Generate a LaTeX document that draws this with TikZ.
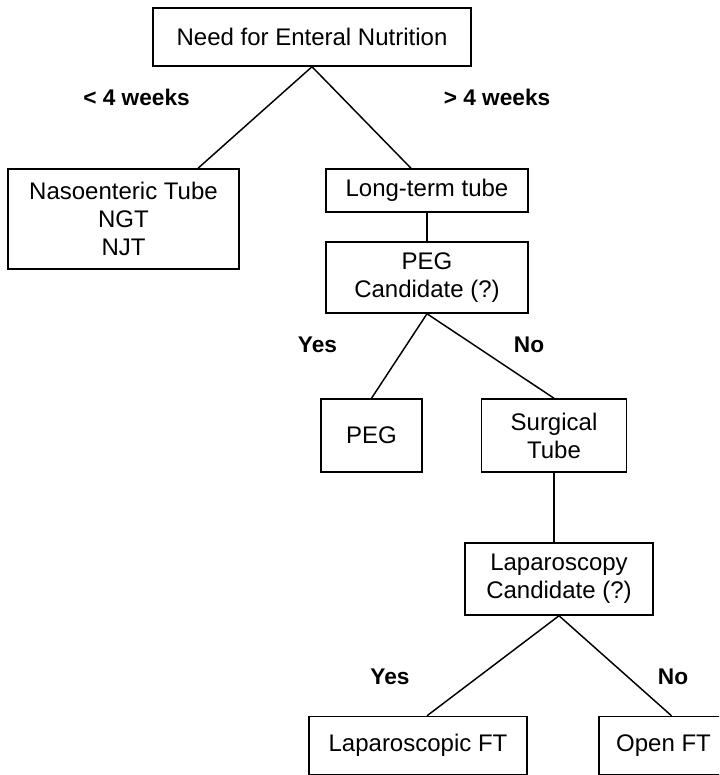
\documentclass[tikz,border=0pt]{standalone}
\usepackage{fontspec}
\setmainfont{Liberation Sans}
\usetikzlibrary{calc}
\begin{document}
\begin{tikzpicture}[
  x=0.75pt, y=-0.75pt, line width=1.1pt,
  box/.style={draw, inner sep=0pt, align=center, font=\fontsize{18}{21}\selectfont},
  lbl/.style={inner sep=0pt, font=\fontsize{17}{20}\selectfont\bfseries}
]
\useasboundingbox (0,0) rectangle (719,775);
\clip (0,0) rectangle (719,775);
\node[box, minimum width=238.5pt, minimum height=43.5pt]  (need)  at (312,37)      {Need for Enteral Nutrition};
\node[box, minimum width=173.25pt, minimum height=75pt]   (naso)  at (123.5,219)   {Nasoenteric Tube\\NGT\\NJT};
\node[box, minimum width=151.5pt, minimum height=32.25pt] (long)  at (427,190.5)   {Long-term tube};
\node[box, minimum width=151.5pt, minimum height=53.25pt] (pegc)  at (427,277.5)   {PEG\\Candidate (?)};
\node[box, minimum width=75.75pt, minimum height=54.75pt] (peg)   at (371.5,435.5) {PEG};
\node[box, minimum width=108.75pt, minimum height=54.75pt] (surg) at (554,435.5)   {Surgical\\Tube};
\node[box, minimum width=141pt, minimum height=54pt]      (lapc)  at (559,579)     {Laparoscopy\\Candidate (?)};
\node[box, minimum width=163.5pt, minimum height=43.5pt]  (lapft) at (418,745.5)   {Laparoscopic FT};
\node[box, minimum width=96.75pt, minimum height=43.5pt]  (open)  at (663.5,745.5) {Open FT};
% branch labels
\node[lbl] (short) at (136.5,97) {< 4 weeks};
\node[lbl] (lterm) at (497,97)   {> 4 weeks};
\node[lbl] (yes1)  at (317.5,345) {Yes};
\node[lbl] (no1)   at (529,345)   {No};
\node[lbl] (yes2)  at (390,677)   {Yes};
\node[lbl] (no2)   at (673,677)   {No};
% connectors
\draw (need.south) -- ($(naso.north)+(74.5,0)$);
\draw (need.south) -- ($(long.north)+(-16,0)$);
\draw (long.south) -- (pegc.north);
\draw (pegc.south) -- (peg.north);
\draw (pegc.south) -- (surg.north);
\draw (surg.south) -- (surg.south |- lapc.north);
\draw (lapc.south) -- ($(lapft.north)+(9,0)$);
\draw (lapc.south) -- ($(open.north)+(8,0)$);
\end{tikzpicture}
\end{document}
